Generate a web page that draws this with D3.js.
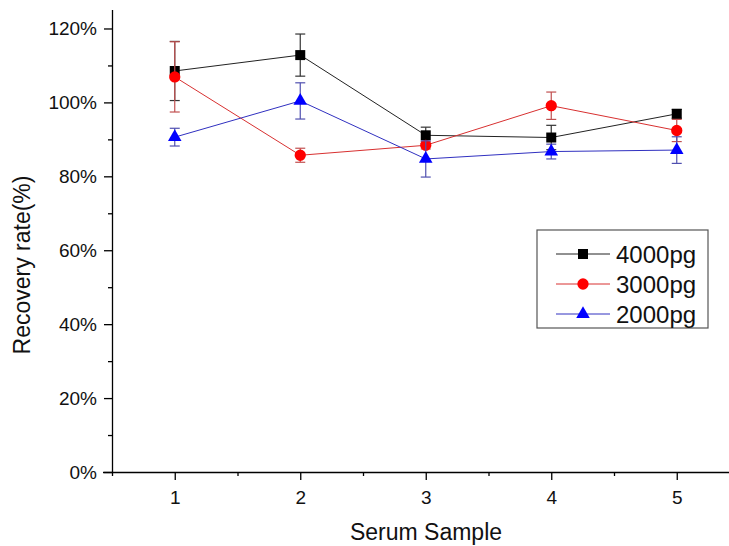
<html lang="en">
<head>
<meta charset="utf-8">
<title>Recovery rate</title>
<style>
  body { margin: 0; background: white; }
  svg { display: block; font-family: "Liberation Sans", Arial, sans-serif; }
  .axis path, .axis line { fill: none; stroke: black; stroke-width: 1.3; }
  .axis text { font-size: 19px; fill: #111; }
</style>
</head>
<body>
<script src="https://cdnjs.cloudflare.com/ajax/libs/d3/7.8.5/d3.min.js"></script>
<script>
// data
var samples = [1, 2, 3, 4, 5];
var s4000 = [108.5, 112.8, 91.1, 90.5, 96.9];
var e4000 = [8.0, 5.7, 2.2, 3.3, 1.2];
var s3000 = [106.9, 85.7, 88.4, 99.1, 92.4];
var e3000 = [9.5, 1.9, 1.0, 3.7, 3.0];
var s2000 = [90.6, 100.4, 84.7, 86.7, 87.1];
var e2000 = [2.4, 4.9, 4.9, 2.0, 3.6];
var yTicks = [0, 20, 40, 60, 80, 100, 120];

var series = [
  {name: "4000pg", vals: s4000, errs: e4000, color: "#000", line: "#222", bar: "#333", sym: d3.symbolSquare, size: 100},
  {name: "3000pg", vals: s3000, errs: e3000, color: "#f00", line: "#d83030", bar: "#c05050", sym: d3.symbolCircle, size: 100},
  {name: "2000pg", vals: s2000, errs: e2000, color: "#00f", line: "#3030c0", bar: "#5050b0", sym: d3.symbolTriangle, size: 80}
];

var W = 729, H = 546;
var svg = d3.select("body").append("svg").attr("width", W).attr("height", H);

var x = d3.scaleLinear().domain([0.5, 5.5]).range([112, 739.5]);
var y = d3.scaleLinear().domain([0, 125]).range([472, 10]);

// minor ticks
svg.append("g").attr("class", "axis")
  .attr("transform", "translate(0,472)")
  .call(d3.axisBottom(x).tickValues([1.5, 2.5, 3.5, 4.5]).tickSize(4).tickFormat(""))
  .select(".domain").remove();
svg.append("g").attr("class", "axis")
  .attr("transform", "translate(112,0)")
  .call(d3.axisLeft(y).tickValues([10, 30, 50, 70, 90, 110]).tickSize(4).tickFormat(""))
  .select(".domain").remove();

// major axes
var xa = svg.append("g").attr("class", "axis")
  .attr("transform", "translate(0,472)")
  .call(d3.axisBottom(x).tickValues(samples).tickSize(8).tickPadding(10).tickSizeOuter(0)
    .tickFormat(d3.format("d")));
xa.select(".domain").attr("d", "M103,0.5H739.5");
xa.selectAll("text").attr("dy", "0.75em");

var ya = svg.append("g").attr("class", "axis")
  .attr("transform", "translate(112,0)")
  .call(d3.axisLeft(y).tickValues(yTicks).tickSize(8).tickPadding(7).tickSizeOuter(0)
    .tickFormat(function(d) { return d + "%"; }));
ya.select(".domain").attr("d", "M0.5,10V476");

// axis titles
svg.append("text")
  .attr("x", 426).attr("y", 540)
  .attr("text-anchor", "middle")
  .style("font-size", "23px").style("fill", "#111")
  .text("Serum Sample");
svg.append("text")
  .attr("transform", "translate(30,265) rotate(-90)")
  .attr("text-anchor", "middle")
  .style("font-size", "23px").style("fill", "#111")
  .text("Recovery rate(%)");

var line = d3.line()
  .x(function(d, i) { return x(samples[i]); })
  .y(function(d) { return y(d); });

series.forEach(function(s) {
  var g = svg.append("g");
  g.append("path")
    .attr("d", line(s.vals))
    .attr("fill", "none")
    .attr("stroke", s.line)
    .attr("stroke-width", 1);

  // error bars
  var eb = g.selectAll(".eb").data(s.vals).enter().append("g")
    .attr("stroke", s.bar).attr("stroke-width", 1.2);
  eb.append("line")
    .attr("x1", function(d, i) { return x(samples[i]); })
    .attr("x2", function(d, i) { return x(samples[i]); })
    .attr("y1", function(d, i) { return y(d + s.errs[i]); })
    .attr("y2", function(d, i) { return y(d - s.errs[i]); });
  [1, -1].forEach(function(sg) {
    eb.append("line")
      .attr("x1", function(d, i) { return x(samples[i]) - 5; })
      .attr("x2", function(d, i) { return x(samples[i]) + 5; })
      .attr("y1", function(d, i) { return y(d + sg * s.errs[i]); })
      .attr("y2", function(d, i) { return y(d + sg * s.errs[i]); });
  });

  g.selectAll(".pt").data(s.vals).enter().append("path")
    .attr("d", d3.symbol().type(s.sym).size(s.size))
    .attr("transform", function(d, i) { return "translate(" + x(samples[i]) + "," + y(d) + ")"; })
    .attr("fill", s.color);
});

// legend
var lg = svg.append("g");
lg.append("rect")
  .attr("x", 537).attr("y", 230).attr("width", 171).attr("height", 98)
  .attr("fill", "white").attr("stroke", "#555").attr("stroke-width", 1.2);
series.forEach(function(s, i) {
  var cy = 254 + i * 30;
  lg.append("line")
    .attr("x1", 556).attr("x2", 610).attr("y1", cy).attr("y2", cy)
    .attr("stroke", s.line).attr("stroke-width", 1);
  lg.append("path")
    .attr("d", d3.symbol().type(s.sym).size(s.size))
    .attr("transform", "translate(583," + cy + ")")
    .attr("fill", s.color);
  lg.append("text")
    .attr("x", 616).attr("y", cy).attr("dy", "0.36em")
    .style("font-size", "24px").style("fill", "#111")
    .text(s.name);
});
</script>
</body>
</html>
